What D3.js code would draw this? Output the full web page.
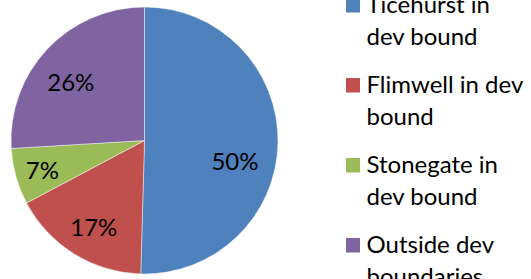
<!DOCTYPE html>
<html>
<head>
<meta charset="utf-8">
<script src="https://cdn.jsdelivr.net/npm/d3@7"></script>
<style>
  html, body { margin: 0; padding: 0; background: #fff; overflow: hidden; }
  svg { display: block; }
</style>
</head>
<body>
<svg id="chart" width="531" height="279"></svg>
<script>
// ---- data ----
const categories = ["Ticehurst in dev bound", "Flimwell in dev bound", "Stonegate in dev bound", "Outside dev boundaries"];
const legendLines = [["Ticehurst in", "dev bound"], ["Flimwell in dev", "bound"], ["Stonegate in", "dev bound"], ["Outside dev", "boundaries"]];
const shares = [50.45, 16.8, 6.8, 25.95];
const pctLabels = ["50%", "17%", "7%", "26%"];
const colors = ["#4F81BD", "#C0504D", "#9BBB59", "#8064A2"];

// ---- layout ----
const svg = d3.select("#chart");
const cx = 144.5, cy = 140.5, R = 133.5;
const font = "Lato, 'Open Sans', sans-serif";

const pie = d3.pie().sort(null).value(d => d)(shares);
const arc = d3.arc().innerRadius(0).outerRadius(R);
const labelArc = d3.arc().innerRadius(95).outerRadius(95);
const labelNudge = [[-4.5, 20], [-0.6, 6], [-10.7, 4.5], [-4.6, 6.5]];

const g = svg.append("g").attr("transform", `translate(${cx},${cy})`);
g.selectAll("path.slice").data(pie).join("path")
  .attr("class", "slice")
  .attr("d", arc)
  .attr("fill", (d, i) => colors[i])
  .attr("stroke", "#ffffff")
  .attr("stroke-opacity", 0.55)
  .attr("stroke-width", 0.8);

const fs = 24;
g.selectAll("text.pct").data(pie).join("text")
  .attr("class", "pct")
  .attr("x", (d, i) => labelArc.centroid(d)[0] + labelNudge[i][0])
  .attr("y", (d, i) => labelArc.centroid(d)[1] + labelNudge[i][1] + fs * 0.36)
  .attr("text-anchor", "middle")
  .attr("font-family", font)
  .attr("font-size", fs)
  .attr("fill", "#000")
  .text((d, i) => pctLabels[i]);

// ---- legend ----
const legY = d3.scalePoint().domain(categories).range([13, 253]);
const leg = svg.append("g");
const items = leg.selectAll("g.item").data(categories).join("g")
  .attr("class", "item")
  .attr("transform", d => `translate(0,${legY(d)})`);
items.append("rect")
  .attr("x", 346).attr("y", -15)
  .attr("width", 14).attr("height", 14.5)
  .attr("fill", (d, i) => colors[i]);
items.each(function (d, i) {
  const t = d3.select(this).append("text")
    .attr("font-family", font)
    .attr("font-size", 24)
    .attr("fill", "#000");
  legendLines[i].forEach((line, j) => {
    t.append("tspan").attr("x", 366.5).attr("y", j * 32).text(line);
  });
});
</script>
</body>
</html>
